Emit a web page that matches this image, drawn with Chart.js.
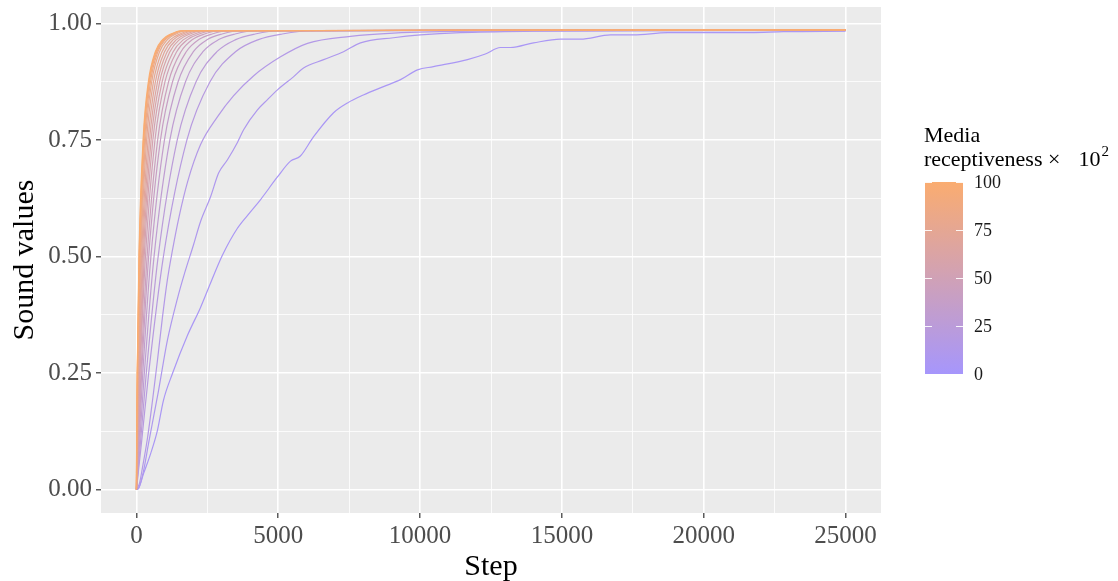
<!DOCTYPE html>
<html>
<head>
<meta charset="utf-8">
<script src="https://cdn.jsdelivr.net/npm/chart.js@4.4.1/dist/chart.umd.min.js"></script>
<style>
  html, body { margin: 0; padding: 0; background: #fff; }
  #wrap { width: 1118px; height: 581px; }
</style>
</head>
<body>
<div id="wrap"><canvas id="chart" width="1118" height="581"></canvas></div>
<script>
// media receptiveness (x 10^2) of each run, slowest first
const receptiveness = [5, 10, 15, 20, 25, 30, 35, 40, 45, 50, 55, 60, 65, 70, 75, 80, 85, 90, 95, 100]

// slow runs
const run5Steps = [0, 70, 250, 500, 740, 950, 1270, 1800, 2260, 2610, 3030, 3560, 4020, 4370, 4970, 5430, 5780, 6240, 6950, 7440,
  8000, 8710, 9310, 9910, 10470, 11670, 12300, 12830, 13190, 14000, 14950, 15650, 16710, 17520, 18720, 20490, 21650, 22810, 25000]
const run5Values = [0, 0.002, 0.034, 0.077, 0.127, 0.191, 0.249, 0.331, 0.391, 0.443, 0.503, 0.561, 0.596, 0.622, 0.671, 0.705, 0.716, 0.757, 0.809, 0.830,
  0.847, 0.865, 0.880, 0.901, 0.908, 0.923, 0.935, 0.949, 0.949, 0.959, 0.967, 0.967, 0.976, 0.976, 0.981, 0.981, 0.981, 0.983, 0.984]

const run10Steps = [0, 100, 250, 430, 600, 780, 1090, 1445, 1700, 2010, 2257, 2610, 2900, 3209, 3560, 3773, 4266, 4620, 4972, 5535,
  5890, 6600, 7300, 7900, 9060, 10010, 11420, 14000, 18000, 25000]
const run10Values = [0, 0.006, 0.04, 0.1, 0.155, 0.213, 0.32, 0.41, 0.465, 0.525, 0.575, 0.628, 0.68, 0.708, 0.745, 0.772, 0.815, 0.837, 0.858, 0.886,
  0.905, 0.923, 0.940, 0.959, 0.970, 0.976, 0.981, 0.984, 0.985, 0.985]

const run15Steps = [0, 106, 212, 388, 564, 740, 917, 1090, 1270, 1500, 1800, 2257, 2855, 3420, 4125, 5080, 6030, 7545, 9060, 12000, 25000]
const run15Values = [0, 0.013, 0.047, 0.11, 0.19, 0.277, 0.37, 0.45, 0.514, 0.585, 0.66, 0.74, 0.8, 0.845, 0.888, 0.929, 0.958, 0.973, 0.98, 0.984, 0.986]

// faster runs: the step where each curve crosses these sound levels
const crossLevels = [0, 0.1, 0.25, 0.5, 0.75, 0.875, 0.94, 0.966, 0.978, 0.985, 0.987]
const run20Steps = [0, 177, 432, 950, 1777, 2588, 3492, 4300, 5140, 6200, 25000]
const run25Steps = [0, 141, 347, 765, 1437, 2098, 2837, 3500, 4185, 5050, 25000]
const run30Steps = [0, 111, 278, 620, 1176, 1726, 2344, 2900, 3478, 4200, 25000]
const run35Steps = [0, 87, 223, 510, 986, 1465, 2007, 2500, 3019, 3650, 25000]
const run40Steps = [0, 70, 184, 430, 846, 1270, 1756, 2200, 2666, 3250, 25000]
const run45Steps = [0, 59, 158, 375, 747, 1130, 1570, 1975, 2400, 2950, 25000]
const run50Steps = [0, 46, 128, 317, 652, 1004, 1417, 1800, 2210, 2700, 25000]
const run55Steps = [0, 37, 107, 273, 577, 904, 1294, 1660, 2053, 2520, 25000]
const run60Steps = [0, 31, 92, 240, 516, 817, 1178, 1520, 1891, 2330, 25000]
const run65Steps = [0, 25, 77, 209, 461, 742, 1083, 1410, 1766, 2190, 25000]
const run70Steps = [0, 20, 64, 180, 409, 668, 990, 1300, 1640, 2050, 25000]
const run75Steps = [0, 15, 52, 152, 358, 599, 903, 1200, 1531, 1930, 25000]
const run80Steps = [0, 13, 44, 133, 318, 537, 815, 1090, 1397, 1770, 25000]
const run85Steps = [0, 11, 38, 117, 287, 493, 756, 1020, 1316, 1680, 25000]
const run90Steps = [0, 8, 32, 103, 262, 459, 718, 980, 1277, 1640, 25000]
const run95Steps = [0, 7, 29, 95, 247, 438, 692, 950, 1247, 1610, 25000]
const run100Steps = [0, 6, 26, 88, 233, 418, 665, 920, 1214, 1580, 25000]

// axes
const xTicks = [0, 2500, 5000, 7500, 10000, 12500, 15000, 17500, 20000, 22500, 25000]
const yTicks = [0, 0.125, 0.25, 0.375, 0.5, 0.625, 0.75, 0.875, 1]
const legendTicks = [0, 25, 50, 75, 100]

const runs = [
  [run5Steps, run5Values], [run10Steps, run10Values], [run15Steps, run15Values],
  [run20Steps, crossLevels], [run25Steps, crossLevels], [run30Steps, crossLevels], [run35Steps, crossLevels],
  [run40Steps, crossLevels], [run45Steps, crossLevels], [run50Steps, crossLevels], [run55Steps, crossLevels],
  [run60Steps, crossLevels], [run65Steps, crossLevels], [run70Steps, crossLevels], [run75Steps, crossLevels],
  [run80Steps, crossLevels], [run85Steps, crossLevels], [run90Steps, crossLevels], [run95Steps, crossLevels],
  [run100Steps, crossLevels],
]

const LOW = [166, 150, 252]
const HIGH = [250, 172, 112]
const SERIF = "'Liberation Serif', 'DejaVu Serif', serif"

const mixColour = (t, alpha) => {
  const c = LOW.map((l, i) => Math.round(l + (HIGH[i] - l) * t))
  return `rgba(${c[0]}, ${c[1]}, ${c[2]}, ${alpha})`
}

const isMajor = (v, step) => Math.abs(v / step - Math.round(v / step)) < 1e-6

const datasets = runs.map(([steps, values], i) => {
  const r = receptiveness[i]
  return {
    label: String(r),
    data: steps.map((s, j) => ({ x: s, y: values[j] })),
    borderColor: mixColour(r / 100, 1),
    borderWidth: 1.2,
    pointRadius: 0,
    cubicInterpolationMode: 'monotone',
    order: 100 - r,
  }
})

const fixScale = (size) => (scale) => {
  if (scale.isHorizontal()) scale.height = size
  else scale.width = size
  scale.paddingTop = 0
  scale.paddingBottom = 0
  scale.paddingLeft = 0
  scale.paddingRight = 0
}

const panelBackground = {
  id: 'panelBackground',
  beforeDraw(chart) {
    const { ctx, chartArea: a } = chart
    ctx.save()
    ctx.fillStyle = '#ebebeb'
    ctx.fillRect(a.left, a.top, a.right - a.left, a.bottom - a.top)
    ctx.restore()
  },
}

const colourBar = {
  id: 'colourBar',
  afterDraw(chart) {
    const { ctx } = chart
    const left = 925
    const right = 963
    const top = 182
    const bottom = 374
    ctx.save()

    // title
    ctx.fillStyle = '#000'
    ctx.textBaseline = 'alphabetic'
    ctx.textAlign = 'left'
    ctx.font = `22px ${SERIF}`
    ctx.fillText('Media', 924, 142)
    ctx.fillText('receptiveness ×', 924, 166)
    const w = ctx.measureText('receptiveness ×').width
    ctx.fillText('10', 924 + w + 18, 166)
    const w10 = ctx.measureText('10').width
    ctx.font = `15px ${SERIF}`
    ctx.fillText('2', 924 + w + 18 + w10 + 1, 156)

    // gradient bar
    const grad = ctx.createLinearGradient(0, bottom, 0, top)
    grad.addColorStop(0, mixColour(0, 1))
    grad.addColorStop(0.5, mixColour(0.5, 1))
    grad.addColorStop(1, mixColour(1, 1))
    ctx.fillStyle = grad
    ctx.fillRect(left, top, right - left, bottom - top)

    // ticks and labels
    ctx.strokeStyle = 'rgba(255,255,255,0.9)'
    ctx.lineWidth = 1
    ctx.fillStyle = '#1a1a1a'
    ctx.font = `18px ${SERIF}`
    ctx.textBaseline = 'middle'
    legendTicks.forEach((v) => {
      const y = Math.round(bottom - (v / 100) * (bottom - top)) + 0.5
      ctx.beginPath()
      ctx.moveTo(left, y)
      ctx.lineTo(left + 7, y)
      ctx.moveTo(right - 7, y)
      ctx.lineTo(right, y)
      ctx.stroke()
      ctx.fillText(String(v), 974, y + 1)
    })
    ctx.restore()
  },
}

Chart.defaults.font.family = SERIF

new Chart(document.getElementById('chart'), {
  type: 'line',
  data: { datasets },
  options: {
    responsive: false,
    animation: false,
    devicePixelRatio: 1,
    layout: { padding: { top: 7, right: 237, bottom: 0, left: 0 } },
    plugins: {
      legend: { display: false },
      tooltip: { enabled: false },
    },
    scales: {
      x: {
        type: 'linear',
        min: -1250,
        max: 26250,
        afterBuildTicks: (s) => { s.ticks = xTicks.map((v) => ({ value: v })) },
        afterFit: fixScale(68),
        border: { display: false },
        grid: {
          color: '#fff',
          lineWidth: (c) => (isMajor(c.tick.value, 5000) ? 1.6 : 0.8),
          tickColor: (c) => (isMajor(c.tick.value, 5000) ? '#333' : 'rgba(0,0,0,0)'),
          tickLength: 5,
          tickWidth: 1.2,
        },
        ticks: {
          autoSkip: false,
          maxRotation: 0,
          padding: 3,
          color: '#4d4d4d',
          font: { size: 25 },
          callback: (v) => (isMajor(v, 5000) ? String(v) : ''),
        },
        title: {
          display: true,
          text: 'Step',
          color: '#000',
          font: { size: 30 },
          padding: { top: 0, bottom: -4 },
        },
      },
      y: {
        type: 'linear',
        min: -0.0505,
        max: 1.036,
        afterBuildTicks: (s) => { s.ticks = yTicks.map((v) => ({ value: v })) },
        afterFit: fixScale(101),
        border: { display: false },
        grid: {
          color: '#fff',
          lineWidth: (c) => (isMajor(c.tick.value, 0.25) ? 1.6 : 0.8),
          tickColor: (c) => (isMajor(c.tick.value, 0.25) ? '#333' : 'rgba(0,0,0,0)'),
          tickLength: 5,
          tickWidth: 1.2,
        },
        ticks: {
          autoSkip: false,
          padding: 4,
          color: '#4d4d4d',
          font: { size: 25 },
          callback: (v) => (isMajor(v, 0.25) ? v.toFixed(2) : ''),
        },
        title: {
          display: true,
          text: 'Sound values',
          color: '#000',
          font: { size: 30 },
          padding: { top: 7, bottom: 0 },
        },
      },
    },
  },
  plugins: [panelBackground, colourBar],
})
</script>
</body>
</html>
